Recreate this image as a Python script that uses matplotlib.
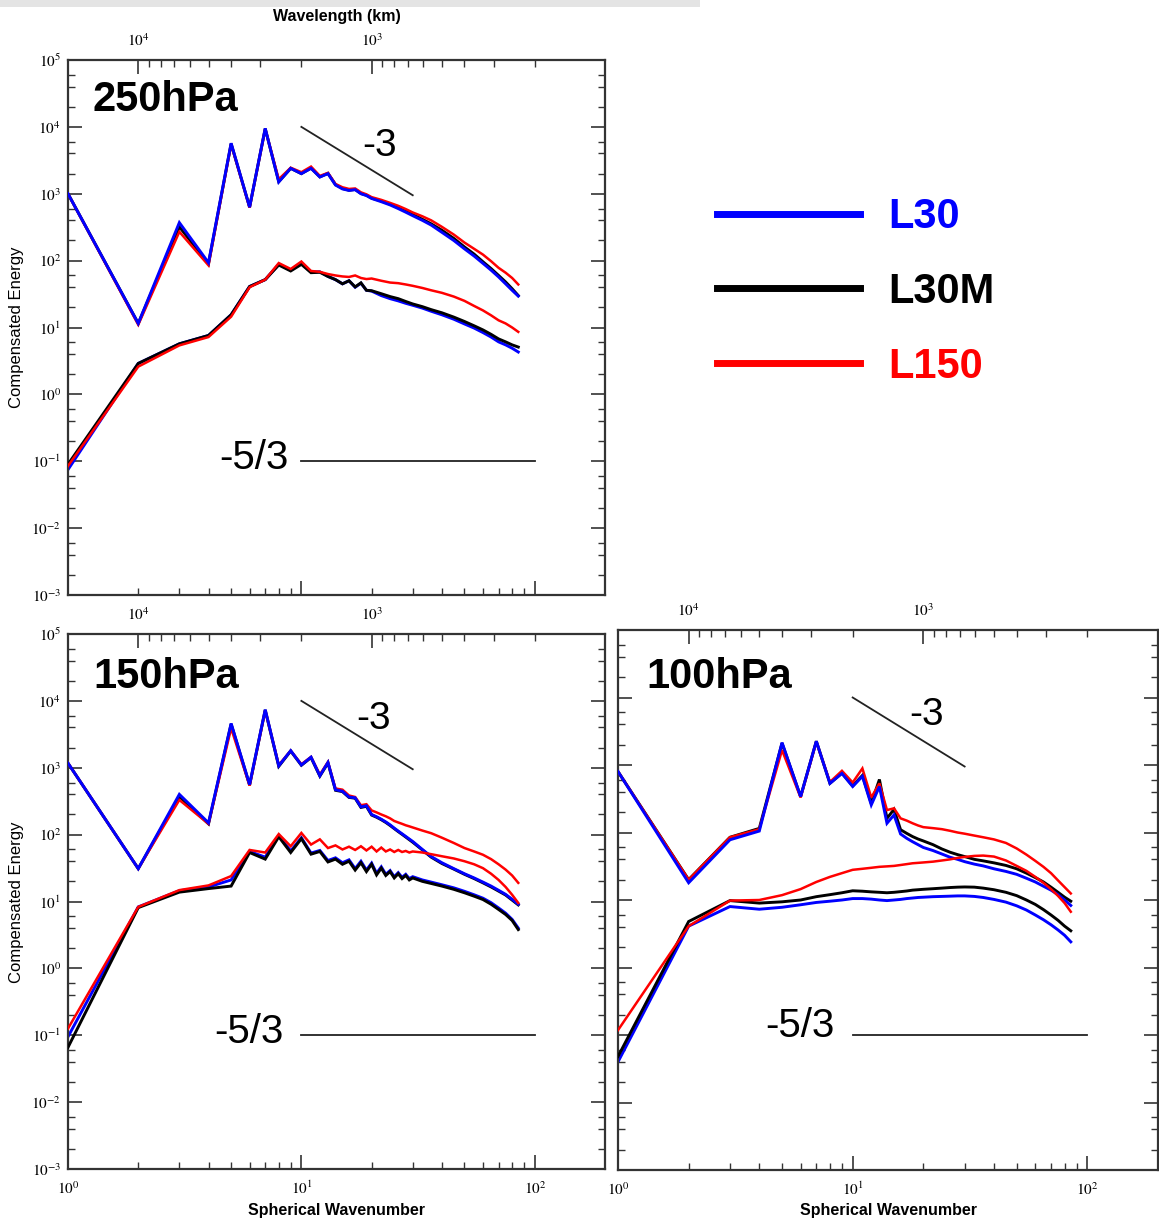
import numpy as np
import matplotlib
matplotlib.use('Agg')
import matplotlib.pyplot as plt
from matplotlib.ticker import FixedLocator, FuncFormatter, NullFormatter
from matplotlib.lines import Line2D
from matplotlib.patches import Rectangle

plt.rcParams['mathtext.fontset'] = 'stix'
plt.rcParams['font.family'] = ['Liberation Sans', 'DejaVu Sans']

# ---------------- data ----------------
K_A = list(range(1, 21)) + [22, 24, 26, 28, 30, 33, 36, 40, 45, 50, 55, 60, 65, 70, 75, 80, 85]
K_B = list(range(1, 31)) + [33, 36, 40, 45, 50, 55, 60, 65, 70, 75, 80, 85]

# 250 hPa
p250_up_L30 = [1000, 11.5, 370, 93, 5700, 630, 9500, 1500, 2400, 2000, 2400, 1780, 2000, 1350, 1180, 1120, 1150, 1000, 940, 850,
               760, 680, 600, 530, 470,
               400, 340, 265, 200, 150, 117, 91, 72, 57, 45, 36, 29.5]
p250_up_L30M = [1000, 11.5, 320, 90, 5600, 630, 9400, 1520, 2400, 2000, 2420, 1790, 2020, 1370, 1200, 1130, 1160, 1010, 950, 860,
                780, 700, 620, 550, 490,
                415, 355, 285, 215, 160, 125, 96, 76, 60, 48, 38, 30]
p250_up_L150 = [1000, 11, 270, 85, 5500, 620, 9300, 1650, 2450, 2100, 2550, 1850, 2050, 1400, 1250, 1180, 1200, 1050, 980, 890,
                810, 730, 660, 590, 525,
                460, 400, 320, 245, 186, 150, 123, 98, 78, 66, 55, 44]
p250_lo_L30 = [0.075, 2.9, 5.7, 7.6, 15.5, 41, 52, 88, 72, 90, 68, 68, 58, 52, 45, 50, 40, 46, 36, 35,
               30, 27, 25, 23, 21.5,
               19.5, 17.5, 15.5, 13.3, 11.3, 9.8, 8.4, 7.2, 6.1, 5.5, 4.9, 4.3]
p250_lo_L30M = [0.09, 2.9, 5.7, 7.6, 15.5, 41, 52, 86, 70, 88, 66, 67, 58, 52, 45, 50, 40.5, 46.5, 36, 35.5,
                32, 29, 27, 24.5, 22.5,
                20.5, 18.5, 16.6, 14.3, 12.3, 10.6, 9.2, 7.9, 6.75, 6.1, 5.5, 5.1]
p250_lo_L150 = [0.085, 2.6, 5.4, 7.2, 14.5, 40, 52, 92, 75, 97, 70, 68, 63, 60, 58, 57, 60, 55, 53, 54,
                50, 47, 46, 44, 42,
                39, 36, 33, 29, 25, 21, 18, 15.2, 12.8, 11.5, 10, 8.6]

# 150 hPa
p150_up_L30 = [1170, 31, 400, 150, 4600, 560, 7400, 1070, 1800, 1100, 1440, 760, 1200, 470, 445, 365, 355, 260, 270, 200,
               185, 170, 155, 140, 125, 113, 103, 94, 86, 79,
               60, 47, 38, 31, 26, 22.5, 19.5, 17, 14.7, 12.8, 10.8, 9.1]
p150_up_L30M = [1170, 31, 370, 145, 4500, 550, 7300, 1050, 1780, 1090, 1420, 750, 1180, 460, 440, 360, 350, 255, 265, 196,
                182, 167, 152, 137, 123, 111, 101, 92, 84, 77,
                59, 46, 37, 30.5, 25.5, 22, 19, 16.5, 14.3, 12.5, 10.5, 8.9]
p150_up_L150 = [1170, 31, 330, 145, 3900, 540, 7200, 1100, 1800, 1130, 1450, 790, 1220, 490, 470, 385, 365, 275, 285, 230,
                215, 200, 188, 175, 160, 152, 145, 138, 133, 128,
                115, 105, 90, 75, 63, 56, 50, 43, 36, 30, 24.5, 19]
p150_lo_L30 = [0.095, 8.3, 14.5, 16.5, 21, 56, 46, 97, 57, 90, 53, 58, 41, 45, 38, 42, 31, 40, 29.5, 37.5,
               26.5, 33, 25.5, 29, 23.5, 27, 23, 25.5, 22, 23.5,
               21, 19.5, 17.8, 16, 14.2, 12.6, 11.2, 9.6, 8, 6.7, 5.4, 4.0]
p150_lo_L30M = [0.066, 8.1, 13.8, 15.6, 17, 54, 43, 93, 54, 87, 51, 56, 39, 43, 36, 40, 29.5, 38, 28, 36,
                25, 31.5, 24.5, 28, 22.5, 26, 22, 24.5, 21, 22.5,
                20, 18.6, 17, 15.2, 13.5, 12, 10.7, 9.1, 7.6, 6.4, 5.2, 3.8]
p150_lo_L150 = [0.126, 8.3, 14.8, 17.4, 24, 59, 54, 102, 67, 106, 71, 85, 63, 69, 60, 66, 59, 67, 58, 66,
                56, 64, 56, 60, 55, 59, 55, 57, 54, 56,
                54, 51, 47.5, 44, 40, 36, 31.5, 26, 21, 16.5, 12.6, 9.5]

# 100 hPa
p100_up_L30 = [800, 18, 78, 105, 2150, 340, 2250, 535, 750, 480, 680, 256, 480, 137, 182, 95, 82, 73, 66, 60,
               54, 48, 43, 40, 37,
               34, 32, 29, 26.5, 24, 21, 18.5, 16, 14, 12, 10, 8.3]
p100_up_L30M = [800, 20, 85, 115, 2100, 340, 2250, 535, 760, 490, 700, 270, 610, 162, 220, 110, 97, 87, 80, 75,
                66, 57, 51, 47, 44,
                40, 38, 35.5, 32.5, 29, 25, 21.5, 18.5, 15.5, 13, 11, 9.6]
p100_up_L150 = [800, 20, 85, 112, 1660, 330, 2200, 560, 820, 550, 890, 330, 535, 215, 228, 162, 150, 137, 127, 120,
                116, 112, 106, 100, 96,
                90, 85, 79, 70, 58, 47, 38, 31, 25, 19.5, 15.5, 12.5]
p100_lo_L30 = [0.04, 4.1, 8.0, 7.3, 7.8, 8.5, 9.2, 9.6, 10, 10.5, 10.5, 10.3, 10, 9.8, 10, 10.2, 10.5, 10.7, 10.9, 11,
               11.2, 11.3, 11.4, 11.5, 11.5,
               11.3, 10.9, 10.2, 9.3, 8.2, 7.1, 6.0, 5.1, 4.3, 3.6, 3.0, 2.4]
p100_lo_L30M = [0.048, 4.8, 9.8, 9.0, 9.4, 10, 11.2, 12, 12.8, 13.7, 13.5, 13.2, 13, 12.8, 13, 13.3, 13.6, 14, 14.2, 14.4,
                14.7, 15, 15.3, 15.5, 15.6,
                15.5, 15, 14.2, 13, 11.6, 10, 8.6, 7.2, 6.0, 5.0, 4.1, 3.5]
p100_lo_L150 = [0.118, 4.1, 9.8, 10, 11.8, 14.5, 18.5, 22, 25, 28, 29, 30, 31, 31.5, 32, 33, 34, 35, 35.5, 36,
                37, 38.5, 40, 42, 43.5,
                45, 45.5, 44, 38.5, 32, 27, 22, 18, 14.5, 11.5, 9, 6.7]

# reference slopes
slope3_n = [10, 30]
slope3_E = [1.0e4, 950]
slope53_n = [10, 100]
slope53_E = [0.1, 0.1]

panel_names = ['250hPa', '150hPa', '100hPa']
series_names = ['L30', 'L30M', 'L150']
series_colors = ['#0000ff', '#000000', '#ff0000']

wave_major = [1e4, 1e3]
wave_minor = [9000, 8000, 7000, 6000, 5000, 4000, 3000, 2000, 900, 800, 700, 600, 500, 400, 300, 200]
HALF_CIRC = 20000.0  # km

# ---------------- figure ----------------
W, H = 1159, 1220
fig = plt.figure(figsize=(W / 100, H / 100), dpi=100)


def add_ax(l, t, r, b):
    return fig.add_axes([l / W, 1 - b / H, (r - l) / W, (b - t) / H])


ax1 = add_ax(68, 60, 605, 595)
ax2 = add_ax(68, 634, 605, 1169)
ax3 = add_ax(618, 630, 1158, 1170)

fmt = FuncFormatter(lambda v, p: r'$10^{%d}$' % int(round(np.log10(v))))
wave_fmt = FuncFormatter(lambda v, p: r'$10^{%d}$' % int(round(np.log10(HALF_CIRC / v))))
SPINE = '#333333'


def style(ax, xlabels, ylabels):
    ax.set_xscale('log')
    ax.set_yscale('log')
    ax.set_xlim(1, 200)
    ax.set_ylim(1e-3, 1e5)
    ax.xaxis.set_major_locator(FixedLocator([1, 10, 100]))
    ax.xaxis.set_minor_locator(FixedLocator([m * 10 ** e for e in (0, 1) for m in range(2, 10)]))
    ax.yaxis.set_major_locator(FixedLocator([10.0 ** e for e in range(-3, 6)]))
    ax.yaxis.set_minor_locator(FixedLocator([m * 10.0 ** e for e in range(-3, 5) for m in (2, 4, 6)]))
    ax.xaxis.set_major_formatter(fmt)
    ax.yaxis.set_major_formatter(fmt)
    ax.xaxis.set_minor_formatter(NullFormatter())
    ax.yaxis.set_minor_formatter(NullFormatter())
    for s in ax.spines.values():
        s.set_linewidth(1.6)
        s.set_color(SPINE)
    ax.tick_params(which='both', direction='in', right=True, left=True, bottom=True,
                   color=SPINE, labelsize=11)
    ax.tick_params(which='major', length=10, width=1.2)
    ax.tick_params(which='minor', length=5, width=1.0)
    ax.tick_params(axis='x', labelbottom=xlabels, pad=8)
    ax.tick_params(axis='y', labelleft=ylabels, pad=5)

    top = ax.twiny()
    top.set_xscale('log')
    top.set_xlim(1, 200)
    top.xaxis.set_major_locator(FixedLocator([HALF_CIRC / w for w in wave_major]))
    top.xaxis.set_major_formatter(wave_fmt)
    top.xaxis.set_minor_locator(FixedLocator([HALF_CIRC / w for w in wave_minor]))
    top.xaxis.set_minor_formatter(NullFormatter())
    for s in top.spines.values():
        s.set_visible(False)
    top.tick_params(which='both', direction='in', color=SPINE, labelsize=11, pad=8)
    top.tick_params(which='major', length=10, width=1.2)
    top.tick_params(which='minor', length=5, width=1.0)
    return top


panels = [
    (ax1, K_A, [p250_up_L30, p250_up_L30M, p250_up_L150], [p250_lo_L30, p250_lo_L30M, p250_lo_L150]),
    (ax2, K_B, [p150_up_L30, p150_up_L30M, p150_up_L150], [p150_lo_L30, p150_lo_L30M, p150_lo_L150]),
    (ax3, K_A, [p100_up_L30, p100_up_L30M, p100_up_L150], [p100_lo_L30, p100_lo_L30M, p100_lo_L150]),
]

up_z = {'L30': 4, 'L30M': 2, 'L150': 3}
lo_z = {'L30': 2, 'L30M': 3, 'L150': 4}

for i, (ax, k, ups, los) in enumerate(panels):
    style(ax, xlabels=(i > 0), ylabels=(i < 2))
    for name, col, yu, yl in zip(series_names, series_colors, ups, los):
        lw = 1.8 if name == 'L150' else 2.1
        ax.plot(k, yu, color=col, lw=lw, zorder=up_z[name], solid_joinstyle='miter')
        ax.plot(k, yl, color=col, lw=lw, zorder=lo_z[name], solid_joinstyle='miter')
    ax.plot(slope3_n, slope3_E, color='#222222', lw=1.3, zorder=5)
    ax.plot(slope53_n, slope53_E, color='#222222', lw=1.3, zorder=5)

# annotations
ax1.text(0.045, 0.925, panel_names[0], transform=ax1.transAxes, fontsize=30, fontweight='bold', ha='left', va='center')
ax2.text(0.047, 0.92, panel_names[1], transform=ax2.transAxes, fontsize=30, fontweight='bold', ha='left', va='center')
ax3.text(0.052, 0.913, panel_names[2], transform=ax3.transAxes, fontsize=30, fontweight='bold', ha='left', va='center')

ax1.text(21.7, 5200, '-3', fontsize=28, ha='center', va='center')
ax2.text(20.4, 5400, '-3', fontsize=28, ha='center', va='center')
ax3.text(20.7, 5500, '-3', fontsize=28, ha='center', va='center')
ax1.text(8.8, 0.11, '-5/3', fontsize=29, ha='right', va='center')
ax2.text(8.4, 0.11, '-5/3', fontsize=29, ha='right', va='center')
ax3.text(8.4, 0.135, '-5/3', fontsize=29, ha='right', va='center')

# axis titles
fig.text(337 / W, 1 - 16 / H, 'Wavelength (km)', fontsize=11.5, fontweight='bold', ha='center', va='center')
fig.text(17 / W, 1 - 327 / H, 'Compensated Energy', fontsize=12, rotation=90, ha='center', va='center')
fig.text(17 / W, 1 - 902 / H, 'Compensated Energy', fontsize=12, rotation=90, ha='center', va='center')
fig.text(336 / W, 1 - 1210 / H, 'Spherical Wavenumber', fontsize=11.5, fontweight='bold', ha='center', va='center')
fig.text(888 / W, 1 - 1211 / H, 'Spherical Wavenumber', fontsize=11.5, fontweight='bold', ha='center', va='center')

# legend
handles = [Line2D([], [], color=c, lw=5) for c in series_colors]
leg = fig.legend(handles, series_names, loc='center left', bbox_to_anchor=(717 / W, 1 - 292 / H),
                 frameon=False, prop={'family': 'Liberation Sans', 'weight': 'bold', 'size': 30},
                 handlelength=3.43, handletextpad=0.67, labelspacing=0.83, borderpad=0, borderaxespad=0,
                 labelcolor='linecolor')

# light grey band at the top
fig.add_artist(Rectangle((0, 1 - 7 / H), 700 / W, 7 / H, transform=fig.transFigure,
                         facecolor='#e4e4e4', edgecolor='none'))

fig.savefig('out.png', dpi=100)
